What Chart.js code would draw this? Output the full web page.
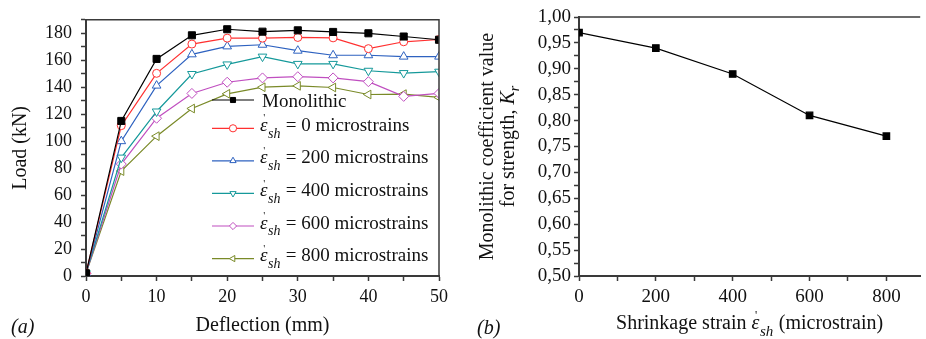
<!DOCTYPE html>
<html>
<head>
<meta charset="utf-8">
<script src="https://cdn.jsdelivr.net/npm/chart.js@4.4.0/dist/chart.umd.min.js"></script>
<style>
  html, body { margin: 0; padding: 0; background: #fff; }
  #wrap { position: relative; width: 926px; height: 339px; overflow: hidden; }
  canvas { position: absolute; top: 0; }
  #left { left: 0; }
  #right { left: 460px; }
</style>
</head>
<body>
<div id="wrap">
  <canvas id="left" width="460" height="339"></canvas>
  <canvas id="right" width="466" height="339"></canvas>
</div>
<script>
// (a) load - deflection curves
const deflection = [0, 5, 10, 15, 20, 25, 30, 35, 40, 45, 50];
const monolithic = [2, 115, 161, 178.5, 183, 181.2, 182.2, 181, 180, 177.6, 175.2];
const strain0    = [2, 111.5, 150.3, 172, 176.4, 176.4, 176.9, 176.6, 168.6, 173.7, 175.4];
const strain200  = [2, 100, 141.2, 164.4, 170.3, 171.5, 167.1, 163.7, 163.7, 162.7, 162.7];
const strain400  = [2, 87.8, 122, 149.8, 156.9, 162.7, 157.3, 157.3, 152.2, 150.5, 151.5];
const strain600  = [2, 83, 117, 135.4, 143.7, 146.9, 147.8, 146.9, 144.1, 133.2, 135.4];
const strain800  = [2, 77.8, 103.7, 124.2, 135.1, 140, 141, 139.8, 134.6, 134.9, 132.4];
const strainLevels = [0, 200, 400, 600, 800];

// (b) monolithic coefficient
const shrinkageStrain = [0, 200, 400, 600, 800];
const coefficientKr = [0.97, 0.94, 0.89, 0.81, 0.77];

const SERIF = '"Liberation Serif"';
Chart.defaults.font.family = SERIF;
Chart.defaults.color = '#111';
const AXIS = '#3a3a3a';

function xy(xs, ys) {
  return xs.map((x, i) => ({ x: x, y: ys[i] }));
}

function setFont(ctx, size, italic) {
  ctx.font = (italic ? 'italic ' : '') + size + 'px ' + SERIF;
}

// italic epsilon with a mark above and "sh" subscript, returns advance width
function drawEpsSh(ctx, x, y, size) {
  setFont(ctx, size, true);
  const w = ctx.measureText('ε').width;
  ctx.fillText('ε', x, y);
  setFont(ctx, Math.round(size * 0.6), false);
  ctx.fillText('\'', x + w * 0.45, y - size * 0.5);
  setFont(ctx, Math.round(size * 0.74), true);
  ctx.fillText('sh', x + w + 0.5, y + size * 0.36);
  return w + ctx.measureText('sh').width + 1;
}

const leftStyles = [
  { color: '#000000', style: 'rect', rot: 0, fill: '#000000', r: 5 },
  { color: '#ff3030', style: 'circle', rot: 0, fill: '#ffffff', r: 4 },
  { color: '#2e62c0', style: 'triangle', rot: 0, fill: '#ffffff', r: 5 },
  { color: '#15999a', style: 'triangle', rot: 180, fill: '#ffffff', r: 5 },
  { color: '#c04fc0', style: 'rectRot', rot: 0, fill: '#ffffff', r: 5 },
  { color: '#7a8a28', style: 'triangle', rot: -90, fill: '#ffffff', r: 5 }
];
const leftSeries = [monolithic, strain0, strain200, strain400, strain600, strain800];
const leftNames = ['Monolithic'].concat(strainLevels.map(s => '= ' + s + ' microstrains'));

const leftLegend = {
  id: 'leftLegend',
  afterDraw(chart) {
    const ctx = chart.ctx;
    const a = chart.chartArea;
    ctx.save();
    // frame top / right
    ctx.strokeStyle = AXIS;
    ctx.lineWidth = 1.5;
    ctx.beginPath();
    ctx.moveTo(a.left, a.top);
    ctx.lineTo(a.right, a.top);
    ctx.lineTo(a.right, a.bottom);
    ctx.stroke();

    const rows = [100, 128.3, 160.8, 193.4, 226, 258.6];
    chart.data.datasets.forEach((ds, i) => {
      const y = rows[i];
      ctx.strokeStyle = ds.borderColor;
      ctx.lineWidth = 1.2;
      ctx.beginPath();
      ctx.moveTo(212, y);
      ctx.lineTo(254, y);
      ctx.stroke();
      ctx.fillStyle = ds.pointBackgroundColor;
      ctx.strokeStyle = ds.borderColor;
      ctx.lineWidth = 1;
      Chart.helpers.drawPoint(ctx, { pointStyle: ds.pointStyle, rotation: ds.pointRotation, radius: 3.6, borderWidth: 1 }, 233, y);
      ctx.fillStyle = '#111';
      ctx.textAlign = 'left';
      ctx.textBaseline = 'alphabetic';
      if (i === 0) {
        setFont(ctx, 19, false);
        ctx.fillText(leftNames[i], 262, y + 6.6);
      } else {
        const base = y + 2.6;
        const w = drawEpsSh(ctx, 260, base, 19);
        setFont(ctx, 19, false);
        ctx.fillText(' ' + leftNames[i], 260 + w, base);
      }
    });
    setFont(ctx, 20, true);
    ctx.fillText('(a)', 11, 333);
    ctx.restore();
  }
};

new Chart(document.getElementById('left'), {
  type: 'line',
  data: {
    datasets: leftSeries.map((s, i) => ({
      label: leftNames[i],
      data: xy(deflection, s),
      borderColor: leftStyles[i].color,
      borderWidth: 1.2,
      pointStyle: leftStyles[i].style,
      pointRotation: leftStyles[i].rot,
      pointRadius: leftStyles[i].r,
      pointBackgroundColor: leftStyles[i].fill,
      pointBorderColor: leftStyles[i].color,
      pointBorderWidth: 1,
      tension: 0
    }))
  },
  options: {
    responsive: false,
    animation: false,
    layout: { padding: { top: 16, right: 21, left: 0, bottom: 0 } },
    plugins: { legend: { display: false }, tooltip: { enabled: false } },
    scales: {
      x: {
        type: 'linear', min: 0, max: 50,
        afterFit(scale) { scale.height = 63; },
        ticks: {
          stepSize: 5, autoSkip: false, maxRotation: 0, padding: 5,
          font: { family: SERIF, size: 18 }, color: '#111',
          callback: v => (v % 10 === 0 ? v : '')
        },
        grid: { drawOnChartArea: false, tickLength: 5, color: AXIS, tickWidth: 1.5 },
        border: { color: AXIS, width: 2 },
        title: { display: true, text: 'Deflection (mm)', font: { family: SERIF, size: 20 }, color: '#111', padding: { top: 0, bottom: 1 } }
      },
      y: {
        min: 0, max: 190,
        afterFit(scale) { scale.width = 86; },
        ticks: {
          stepSize: 10, autoSkip: false, padding: 9,
          font: { family: SERIF, size: 18 }, color: '#111',
          callback: v => (v % 20 === 0 ? v : '')
        },
        grid: { drawOnChartArea: false, tickLength: 5, color: AXIS, tickWidth: 1.5 },
        border: { color: AXIS, width: 2 },
        title: { display: true, text: 'Load (kN)', font: { family: SERIF, size: 20 }, color: '#111', padding: { top: 9, bottom: 0 } }
      }
    }
  },
  plugins: [leftLegend]
});

const rightDecor = {
  id: 'rightDecor',
  afterDraw(chart) {
    const ctx = chart.ctx;
    const a = chart.chartArea;
    ctx.save();
    ctx.strokeStyle = AXIS;
    ctx.lineWidth = 1.5;
    ctx.beginPath();
    ctx.moveTo(a.left, a.top);
    ctx.lineTo(a.right, a.top);
    ctx.stroke();

    ctx.fillStyle = '#111';
    ctx.textBaseline = 'alphabetic';
    ctx.textAlign = 'left';
    // x title: Shrinkage strain eps_sh (microstrain)
    const size = 20;
    setFont(ctx, size, false);
    const p1 = 'Shrinkage strain ';
    const p2 = ' (microstrain)';
    const w1 = ctx.measureText(p1).width;
    const w2 = ctx.measureText(p2).width;
    setFont(ctx, size, true);
    let we = ctx.measureText('ε').width;
    setFont(ctx, Math.round(size * 0.74), true);
    we += ctx.measureText('sh').width + 1;
    let x = (a.left + a.right) / 2 - (w1 + we + w2) / 2;
    const by = 329;
    setFont(ctx, size, false);
    ctx.fillText(p1, x, by);
    x += w1;
    x += drawEpsSh(ctx, x, by, size);
    setFont(ctx, size, false);
    ctx.fillText(p2, x, by);

    // y title, two rotated lines
    const cy = (a.top + a.bottom) / 2;
    ctx.save();
    ctx.translate(33, cy);
    ctx.rotate(-Math.PI / 2);
    setFont(ctx, size, false);
    ctx.textAlign = 'center';
    ctx.fillText('Monolithic coefficient value', 0, 0);
    ctx.textAlign = 'left';
    const l2 = 'for strength, ';
    const lw = ctx.measureText(l2).width;
    setFont(ctx, size, true);
    const kw = ctx.measureText('K').width;
    setFont(ctx, Math.round(size * 0.72), true);
    const rw = ctx.measureText('r').width;
    let u = -(lw + kw + rw) / 2;
    setFont(ctx, size, false);
    ctx.fillText(l2, u, 21);
    u += lw;
    setFont(ctx, size, true);
    ctx.fillText('K', u, 21);
    u += kw;
    setFont(ctx, Math.round(size * 0.72), true);
    ctx.fillText('r', u, 21 + 5);
    ctx.restore();

    setFont(ctx, 20, true);
    ctx.fillText('(b)', 17, 334);
    ctx.restore();
  }
};

new Chart(document.getElementById('right'), {
  type: 'line',
  data: {
    datasets: [{
      label: 'Kr',
      data: xy(shrinkageStrain, coefficientKr),
      borderColor: '#000',
      borderWidth: 1.2,
      pointStyle: 'rect',
      pointRadius: 4.6,
      pointBackgroundColor: '#000',
      pointBorderColor: '#000',
      tension: 0
    }]
  },
  options: {
    responsive: false,
    animation: false,
    layout: { padding: { top: 17, right: 0, left: 0, bottom: 0 } },
    plugins: { legend: { display: false }, tooltip: { enabled: false } },
    scales: {
      x: {
        type: 'linear', min: 0, max: 888,
        afterFit(scale) { scale.height = 63; },
        ticks: {
          stepSize: 100, autoSkip: false, maxRotation: 0, padding: 5, includeBounds: false,
          font: { family: SERIF, size: 19 }, color: '#111',
          callback: v => (v % 200 === 0 ? v : '')
        },
        grid: { drawOnChartArea: false, tickLength: 5, color: AXIS, tickWidth: 1.5 },
        border: { color: AXIS, width: 2 }
      },
      y: {
        min: 0.5, max: 1.0,
        afterFit(scale) { scale.width = 119; },
        ticks: {
          stepSize: 0.025, autoSkip: false, padding: 3,
          font: { family: SERIF, size: 19 }, color: '#111',
          callback: v => (Math.round(v * 1000) % 50 === 0 ? v.toFixed(2).replace('.', ',') : '')
        },
        grid: { drawOnChartArea: false, tickLength: 5, color: AXIS, tickWidth: 1.5 },
        border: { color: AXIS, width: 2 }
      }
    }
  },
  plugins: [rightDecor]
});
</script>
</body>
</html>
